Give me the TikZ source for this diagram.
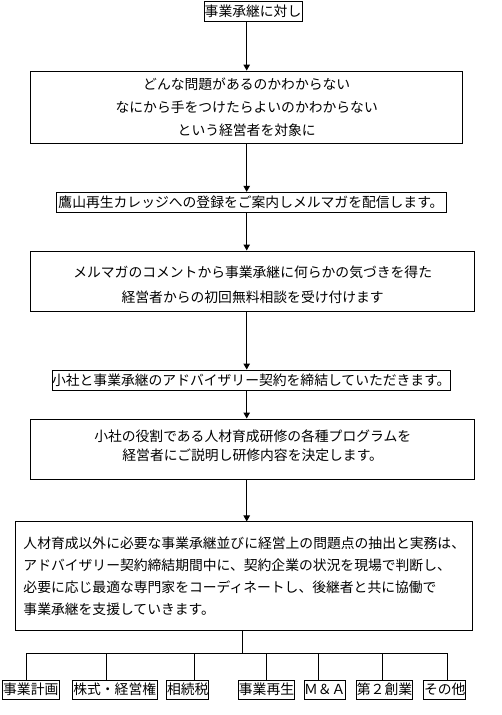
\documentclass[tikz,border=0pt]{standalone}
\usepackage{fontspec}
\setmainfont{Noto Sans CJK JP}
\usetikzlibrary{arrows.meta,positioning,calc}

\begin{document}
\begin{tikzpicture}[
  x=1pt, y=-1pt,
  line width=1pt,
  stepbox/.style={rectangle, draw=black, fill=white, inner sep=0pt,
    font=\fontsize{13.8}{23}\selectfont, align=center},
  leaf/.style={rectangle, draw=black, inner sep=0pt, minimum height=19.3,
    font=\fontsize{13.8}{16}\selectfont},
  arr/.style={-{Triangle[length=6pt,width=6.5pt]}}
]
\useasboundingbox (0,0) rectangle (501,715);
\coordinate (spine) at (246.7,0);
% main flow
\node[stepbox, minimum width=98, minimum height=20] (top) at (253,11) {事業承継に対し};
\node[stepbox, minimum width=432, minimum height=72.3] (target) at (246.7,107.2)
  {どんな問題があるのかわからない\\なにから手をつけたらよいのかわからない\\という経営者を対象に};
\node[stepbox, minimum width=390, minimum height=19.7] (guide) at (251,202.2)
  {鷹山再生カレッジへの登録をご案内しメルマガを配信します。};
\node[stepbox, minimum width=444, minimum height=60, font=\fontsize{13.8}{25}\selectfont] (consult) at (252.7,281)
  {\rule{0pt}{19pt}メルマガのコメントから事業承継に何らかの気づきを得た\\経営者からの初回無料相談を受け付けます};
\node[stepbox, minimum width=390.7, minimum height=20] (contract) at (251.3,380)
  {小社と事業承継のアドバイザリー契約を締結していただきます。};
\node[stepbox, minimum width=444, minimum height=60, font=\fontsize{13.8}{19}\selectfont] (program) at (252.7,449)
  {小社の役割である人材育成研修の各種プログラムを\\経営者にご説明し研修内容を決定します。\rule[-8pt]{0pt}{8pt}};
\node[stepbox, minimum width=456.7, minimum height=108.7, align=left, font=\fontsize{13.8}{22}\selectfont] (support) at (244.3,576.3)
  {人材育成以外に必要な事業承継並びに経営上の問題点の抽出と実務は、\\アドバイザリー契約締結期間中に、契約企業の状況を現場で判断し、\\必要に応じ最適な専門家をコーディネートし、後継者と共に協働で\\事業承継を支援していきます。};
\draw[arr] (top.south -| spine) -- (target.north -| spine);
\draw[arr] (target.south -| spine) -- (guide.north -| spine);
\draw[arr] (guide.south -| spine) -- (consult.north -| spine);
\draw[arr] (consult.south -| spine) -- (contract.north -| spine);
\draw[arr] (contract.south -| spine) -- (program.north -| spine);
\draw[arr] (program.south -| spine) -- (support.north -| spine);
% fields of support
\node[leaf, minimum width=57] (plan) at (30.8,689.7) {事業計画};
\node[leaf, minimum width=84.7] (stock) at (114.7,689.7) {株式・経営権};
\node[leaf, minimum width=42.3] (tax) at (187.8,689.7) {相続税};
\node[leaf, minimum width=56.4] (revival) at (266.5,689.7) {事業再生};
\node[leaf, minimum width=41] (ma) at (324.8,689.7) {Ｍ＆Ａ};
\node[leaf, minimum width=56.4] (second) at (384.5,689.7) {第２創業};
\node[leaf, minimum width=42] (other) at (444.7,689.7) {その他};
\coordinate (hub) at (242.3,653.3);
\draw (support.south -| hub) -- (hub);
\foreach \dx/\leafname [count=\i] in {26.7/plan, 106.3/stock, 194.3/tax, 266.3/revival,
    318.3/ma, 382.3/second, 447.3/other} {
  \coordinate (drop\i) at (\dx,653.3);
  \draw (drop\i) -- (drop\i |- \leafname.north);
}
\draw (drop1) -- (drop7);
\end{tikzpicture}
\end{document}
